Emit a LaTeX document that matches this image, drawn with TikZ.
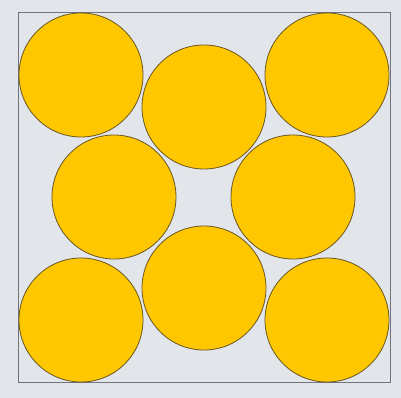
\documentclass[tikz,border=0pt]{standalone}
\usepackage{xcolor}
\usepackage{tikz}
\definecolor{paperbg}{HTML}{E2E5EA}
\definecolor{framegrey}{HTML}{6E737C}
\definecolor{discfill}{HTML}{FFC700}
\definecolor{discedge}{HTML}{6A5520}

\begin{document}
\begin{tikzpicture}[
    x=1pt, y=-1pt,
    disc/.style={
        circle,
        draw=discedge,
        line width=0.8pt,
        fill=discfill,
        minimum size=124pt,
        inner sep=0pt
    },
    frame/.style={draw=framegrey, line width=1pt}
]
    % background and box
    \fill[paperbg] (0,0) rectangle (401,398);
    \useasboundingbox (0,0) rectangle (401,398);
    \draw[frame] (18,13) rectangle (390,382);

    % top row
    \node[disc] (topleft) at (81,75) {};
    \node[disc] (topright) at (327,75) {};
    \node[disc] (topmid) at (204,107) {};

    % middle row
    \node[disc] (midleft) at (114,197) {};
    \node[disc] (midright) at (293,197) {};

    % bottom row
    \node[disc] (botmid) at (204,288) {};
    \node[disc] (botleft) at (81,320) {};
    \node[disc] (botright) at (327,320) {};
\end{tikzpicture}
\end{document}
